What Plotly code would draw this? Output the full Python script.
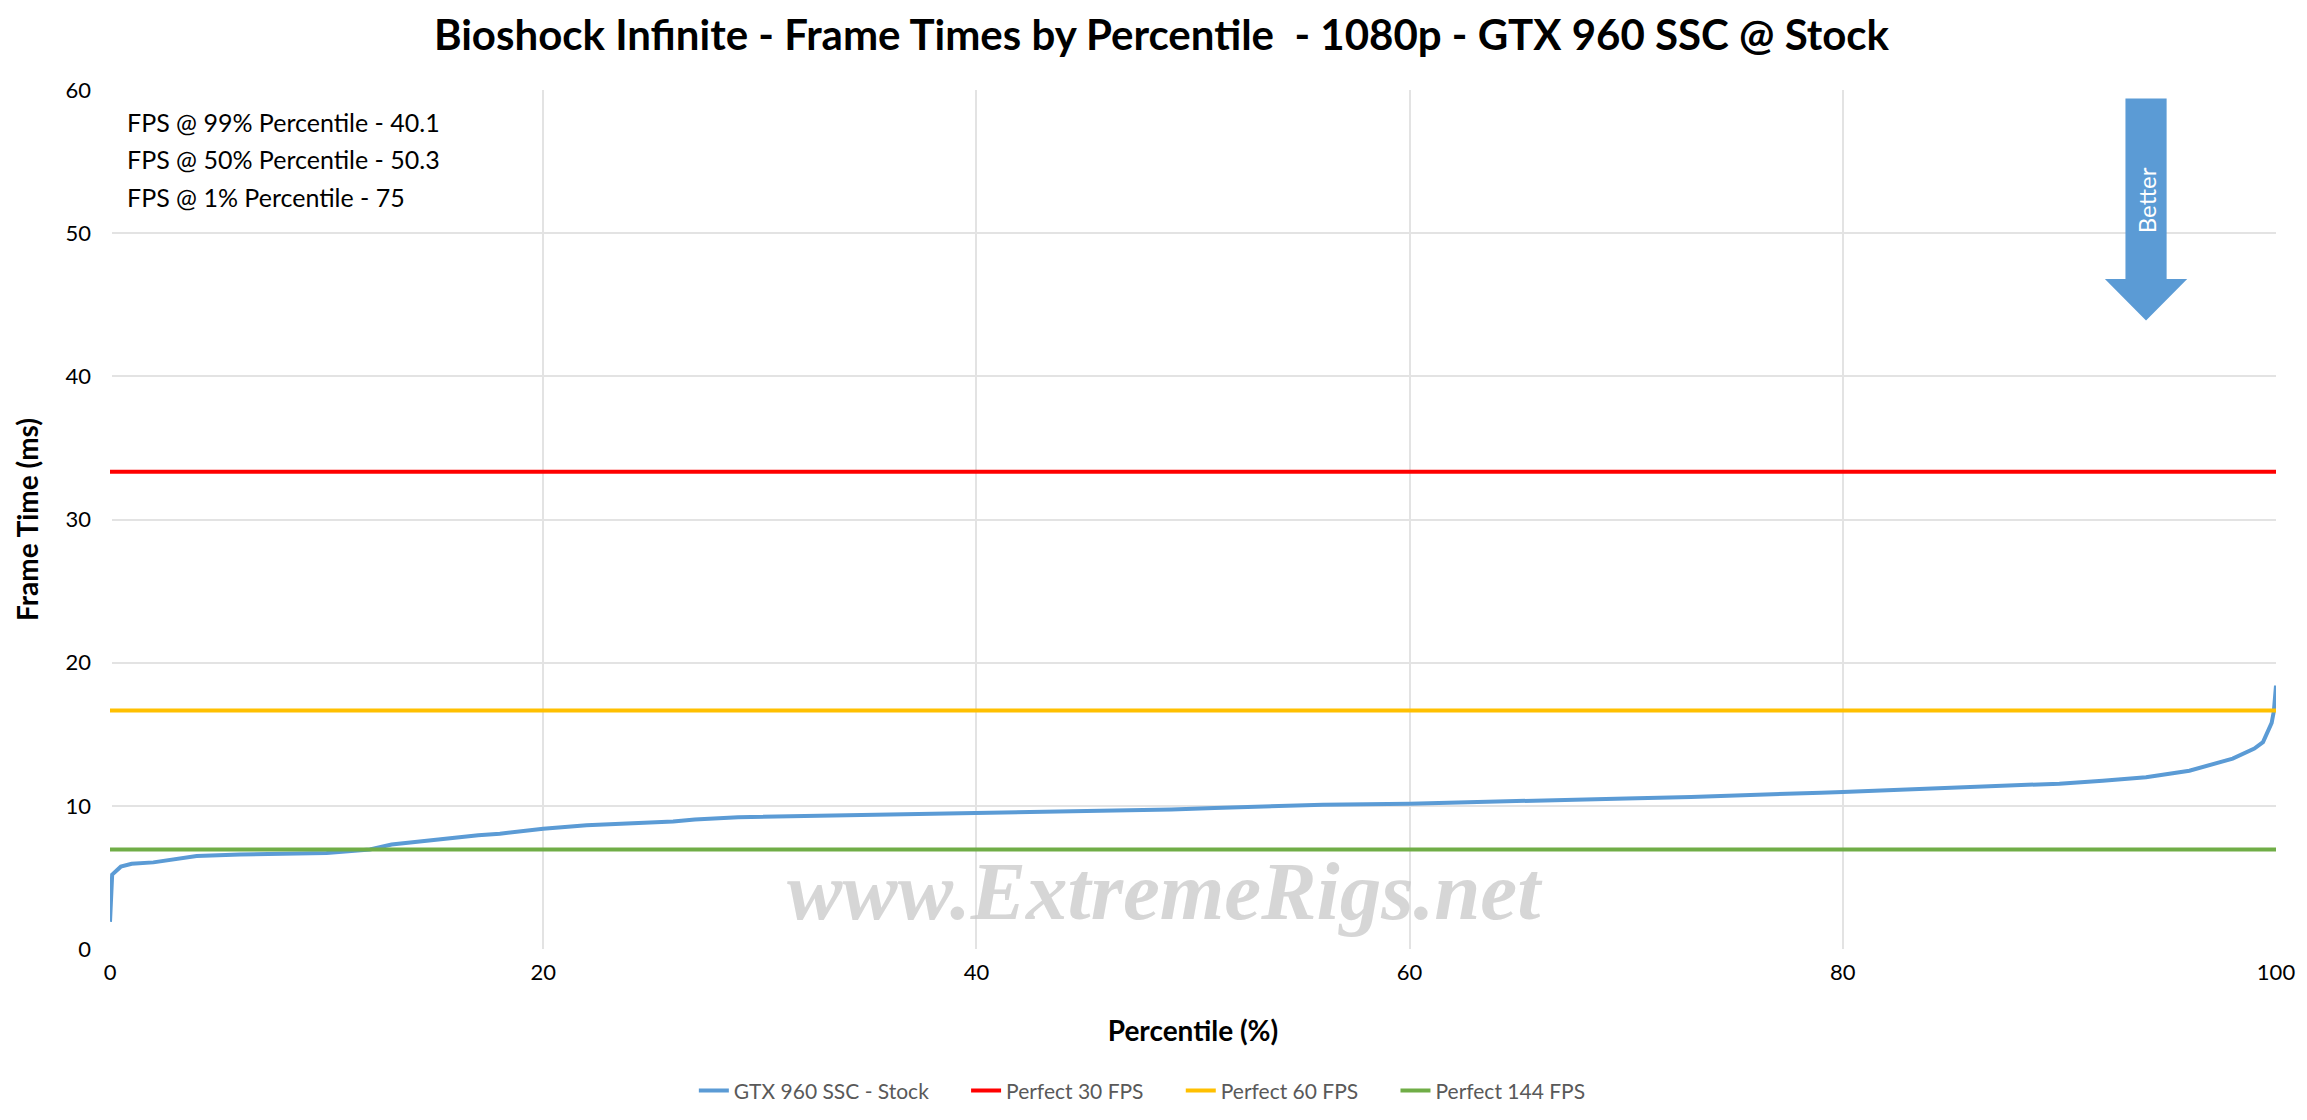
import plotly.graph_objects as go

# frame time curve
pct = [0, 0.1, 0.5, 1, 2, 4, 6, 10, 12, 13, 17, 18, 20, 22, 26, 27, 29, 32, 35, 38,
       40, 43, 46, 49, 51, 56, 60, 64, 67, 70, 73, 76, 79, 80, 83, 84, 88, 90, 92, 94,
       96, 98, 99, 99.4, 99.8, 99.9, 100]
frame_ms = [1.9, 5.2, 5.75, 5.95, 6.05, 6.5, 6.6, 6.7, 6.95, 7.3, 7.95, 8.05, 8.4, 8.65, 8.9, 9.05, 9.2, 9.28, 9.35, 9.45,
            9.5, 9.55, 9.62, 9.74, 9.85, 10.08, 10.15, 10.32, 10.43, 10.52, 10.62, 10.8, 10.92, 10.97, 11.15, 11.18, 11.48, 11.55, 11.75, 12.0,
            12.45, 13.3, 14.0, 14.45, 15.8, 16.6, 18.4]

ref_names = ["Perfect 30 FPS", "Perfect 60 FPS", "Perfect 144 FPS"]
ref_fps = [30, 60, 144]
ref_colors = ["#ff0000", "#ffc000", "#70ad47"]

stats = ["FPS @ 99% Percentile - 40.1", "FPS @ 50% Percentile - 50.3", "FPS @ 1% Percentile - 75"]

FONT = "Lato"
BLUE = "#5b9bd5"
PAD = "\u00a0" * 6  # extra room between legend entries

fig = go.Figure()
fig.add_trace(go.Scatter(x=pct, y=frame_ms, mode="lines", name="GTX 960 SSC - Stock" + PAD,
                         line=dict(color=BLUE, width=4)))
for n, f, c in zip(ref_names, ref_fps, ref_colors):
    fig.add_trace(go.Scatter(x=[0, 100], y=[1000 / f, 1000 / f], mode="lines", name=n + PAD,
                             line=dict(color=c, width=4)))

# "Better" arrow
ax0, ax1, hx0, hx1, top, neck, tip = 93.05, 94.95, 92.1, 95.9, 59.4, 46.8, 43.9
axc = (ax0 + ax1) / 2
fig.add_shape(type="path", xref="x", yref="y", fillcolor=BLUE, line=dict(width=0),
              path=f"M {ax0} {top} L {ax1} {top} L {ax1} {neck} L {hx1} {neck} L {axc} {tip} "
                   f"L {hx0} {neck} L {ax0} {neck} Z")
fig.add_annotation(x=axc, y=52.3, xref="x", yref="y", text="Better", textangle=-90, showarrow=False,
                   font=dict(family=FONT, size=24, color="white"))

for i, s in enumerate(stats):
    fig.add_annotation(x=0.007, y=0.963 - i * 0.0435, xref="paper", yref="paper", xanchor="left",
                       yanchor="middle", showarrow=False, text=s,
                       font=dict(family=FONT, size=25, color="#000000"))

fig.add_annotation(x=0.487, y=0.012, xref="paper", yref="paper", showarrow=False,
                   text="<b><i>www.ExtremeRigs.net</i></b>",
                   font=dict(family="Liberation Serif", size=83, color="rgba(200,200,200,0.75)"))

fig.update_layout(
    width=2307, height=1120,
    paper_bgcolor="white", plot_bgcolor="white",
    margin=dict(l=102, r=39, t=82, b=179),
    font=dict(family=FONT, color="#000000"),
    title=dict(text="<b>Bioshock Infinite - Frame Times by Percentile  - 1080p - GTX 960 SSC @ Stock</b>",
               x=0.5, xanchor="center", y=0.976, yanchor="middle",
               font=dict(family=FONT, size=42, color="#000000")),
    showlegend=True,
    legend=dict(orientation="h", x=0.484, xanchor="center", y=-0.165, yanchor="middle",
                font=dict(family=FONT, size=21, color="#595959")),
    xaxis=dict(range=[0, 100], dtick=20, showgrid=True, gridcolor="#e3e3e3", gridwidth=2,
               zeroline=True, zerolinecolor="white", zerolinewidth=3, showline=False,
               tickfont=dict(size=22), ticklabelstandoff=8,
               title=dict(text="<b>Percentile (%)</b>", font=dict(size=28), standoff=37)),
    yaxis=dict(range=[0, 60], dtick=10, showgrid=True, gridcolor="#e3e3e3", gridwidth=2,
               zeroline=False, showline=False, tickfont=dict(size=22), ticklabelstandoff=18,
               title=dict(text="<b>Frame Time (ms)</b>", font=dict(size=28), standoff=18)),
)

fig.write_html("out.html")
